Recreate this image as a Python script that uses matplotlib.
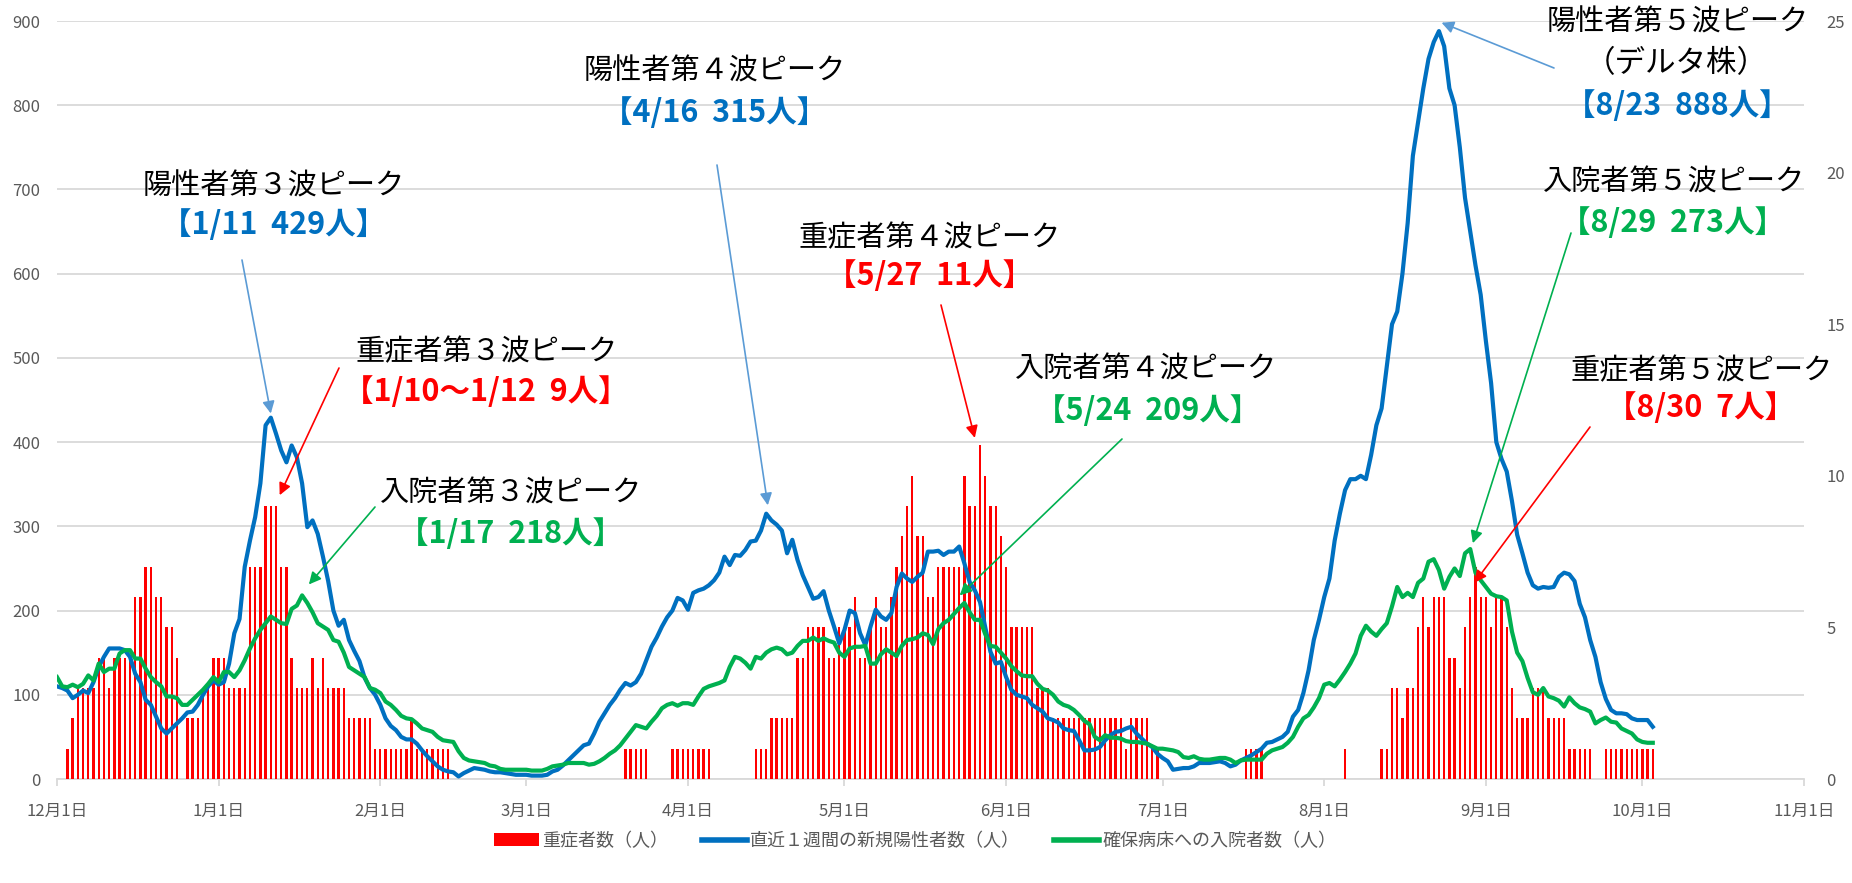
import pandas as pd
import matplotlib
matplotlib.use('Agg')
import matplotlib.pyplot as plt
import matplotlib.dates as mdates
from matplotlib.patches import Patch
from matplotlib.lines import Line2D
from matplotlib.ticker import FuncFormatter

plt.rcParams['font.family'] = ['Noto Sans CJK JP', 'DejaVu Sans']

start = '2020-12-01'

# 重症者数（人） 右軸
severe = [
    0, 0, 1, 2, 3, 3, 3, 3, 4, 4, 3, 4, 4, 4, 4, 6, 6, 7, 7, 6, 6, 5, 5, 4, 0, 2, 2, 2, 3, 3, 4,  # 12月
    4, 4, 3, 3, 3, 3, 7, 7, 7, 9, 9, 9, 7, 7, 4, 3, 3, 3, 4, 3, 4, 3, 3, 3, 3, 2, 2, 2, 2, 2, 1,  # 1月
    1, 1, 1, 1, 1, 1, 2, 1, 1, 1, 1, 1, 1, 1, 0, 0, 0, 0, 0, 0, 0, 0, 0, 0, 0, 0, 0, 0,  # 2月
    0, 0, 0, 0, 0, 0, 0, 0, 0, 0, 0, 0, 0, 0, 0, 0, 0, 0, 0, 1, 1, 1, 1, 1, 0, 0, 0, 0, 1, 1, 1,  # 3月
    1, 1, 1, 1, 1, 0, 0, 0, 0, 0, 0, 0, 0, 1, 1, 1, 2, 2, 2, 2, 2, 4, 4, 5, 5, 5, 5, 4, 4, 5,  # 4月
    5, 5, 6, 4, 4, 5, 6, 5, 5, 6, 7, 8, 9, 10, 8, 8, 6, 6, 7, 7, 7, 7, 7, 10, 9, 9, 11, 10, 9, 9, 8,  # 5月
    7, 5, 5, 5, 5, 5, 3, 3, 3, 2, 2, 2, 2, 2, 2, 2, 2, 2, 2, 2, 2, 2, 2, 1, 2, 2, 2, 2, 1, 1,  # 6月
    0, 0, 0, 0, 0, 0, 0, 0, 0, 0, 0, 0, 0, 0, 0, 0, 1, 1, 1, 1, 0, 0, 0, 0, 0, 0, 0, 0, 0, 0, 0,  # 7月
    0, 0, 0, 0, 1, 0, 0, 0, 0, 0, 0, 1, 1, 3, 3, 2, 3, 3, 5, 6, 5, 6, 6, 6, 4, 4, 3, 5, 6, 7, 6,  # 8月
    6, 5, 6, 6, 5, 3, 2, 2, 2, 3, 3, 3, 2, 2, 2, 2, 1, 1, 1, 1, 1, 0, 0, 1, 1, 1, 1, 1, 1, 1,  # 9月
    1, 1, 1,  # 10月
]

# 直近１週間の新規陽性者数（人） 左軸
positives = [
    110, 108, 105, 96, 100, 105, 102, 115, 133, 145, 155, 155, 155, 153, 145, 125, 115, 94, 88, 74,
    60, 54, 60, 66, 72, 79, 80, 88, 100, 110, 117,  # 12月
    112, 115, 137, 173, 190, 252, 283, 311, 351, 420, 429, 410, 390, 376, 396, 382, 351, 299, 307, 291,
    264, 235, 200, 182, 189, 165, 152, 140, 120, 108, 100,  # 1月
    88, 72, 63, 58, 50, 47, 47, 42, 34, 27, 21, 15, 11, 9, 8, 3, 7, 10, 13, 12,
    11, 9, 8, 8, 7, 6, 5, 5,  # 2月
    5, 4, 4, 4, 5, 9, 11, 16, 22, 28, 34, 40, 42, 54, 68, 78, 88, 96, 106, 114,
    111, 115, 125, 141, 157, 168, 181, 192, 200, 215, 212,  # 3月
    201, 221, 224, 226, 230, 236, 245, 264, 254, 266, 265, 272, 282, 283, 295, 315, 307, 302, 295, 268,
    284, 260, 242, 228, 214, 216, 223, 200, 181, 161,  # 4月
    177, 200, 197, 173, 159, 181, 201, 193, 189, 197, 228, 244, 238, 234, 240, 245, 270, 270, 271, 266,
    270, 270, 276, 256, 234, 224, 210, 180, 151, 137, 139,  # 5月
    121, 106, 100, 98, 96, 88, 84, 80, 72, 70, 67, 60, 58, 57, 46, 34, 34, 35, 38, 46,
    52, 56, 57, 60, 62, 54, 48, 42, 38, 30,  # 6月
    25, 21, 11, 12, 13, 13, 15, 19, 19, 19, 20, 21, 19, 15, 17, 22, 25, 28, 32, 36,
    43, 44, 47, 50, 56, 74, 82, 102, 129, 165, 189,  # 7月
    216, 238, 283, 315, 343, 356, 356, 360, 356, 385, 420, 440, 490, 540, 555, 600, 660, 740, 780, 820,
    855, 875, 888, 870, 820, 800, 750, 690, 650, 610, 575,  # 8月
    520, 470, 400, 380, 365, 330, 290, 268, 245, 230, 226, 228, 227, 228, 240, 245, 243, 235, 208, 192,
    165, 145, 115, 95, 82, 78, 78, 77, 72, 70,  # 9月
    70, 70, 62,  # 10月
]

# 確保病床への入院者数（人） 左軸
hospital = [
    121, 110, 109, 112, 109, 113, 123, 117, 137, 127, 131, 131, 149, 153, 153, 143, 143, 131, 121, 115,
    110, 98, 98, 96, 88, 88, 94, 100, 106, 113, 121,  # 12月
    115, 127, 127, 121, 129, 141, 155, 167, 177, 185, 193, 189, 185, 184, 202, 206, 218, 209, 198, 185,
    181, 177, 165, 163, 150, 133, 129, 125, 121, 108, 106,  # 1月
    102, 92, 88, 82, 75, 72, 71, 66, 60, 58, 56, 50, 46, 45, 44, 33, 25, 22, 21, 20,
    19, 16, 15, 12, 11, 11, 11, 11,  # 2月
    11, 10, 10, 10, 12, 15, 16, 17, 19, 19, 19, 19, 17, 18, 21, 25, 30, 34, 40, 48,
    56, 64, 62, 60, 68, 75, 84, 88, 90, 87, 90,  # 3月
    90, 88, 98, 107, 110, 112, 114, 117, 133, 145, 143, 138, 131, 145, 143, 150, 154, 156, 154, 148,
    150, 158, 164, 164, 168, 164, 167, 164, 162, 150,  # 4月
    145, 155, 157, 157, 158, 137, 137, 148, 154, 150, 146, 158, 165, 166, 168, 173, 171, 160, 178, 185,
    189, 196, 203, 209, 198, 189, 189, 172, 158, 157, 150,  # 5月
    143, 134, 128, 123, 122, 122, 113, 107, 105, 100, 92, 88, 86, 82, 76, 69, 65, 50, 46, 52,
    49, 49, 48, 45, 44, 44, 43, 42, 39, 36,  # 6月
    36, 35, 34, 32, 26, 25, 27, 24, 23, 23, 24, 25, 25, 23, 19, 22, 23, 23, 23, 23,
    30, 34, 36, 38, 43, 50, 62, 72, 76, 85, 96,  # 7月
    112, 114, 110, 118, 127, 137, 149, 170, 182, 175, 170, 178, 185, 205, 228, 216, 221, 216, 233, 238,
    258, 261, 248, 226, 240, 250, 241, 268, 273, 245, 236,  # 8月
    228, 220, 217, 216, 212, 175, 150, 140, 120, 103, 100, 108, 98, 96, 93, 86, 97, 90, 85, 83,
    80, 66, 70, 73, 68, 67, 60, 57, 54, 47,  # 9月
    44, 43, 43,  # 10月
]

dates = pd.date_range(start, periods=len(positives), freq='D')

W, H = 1852, 883
fig = plt.figure(figsize=(W / 100, H / 100), dpi=100)
ax = fig.add_axes([57 / W, 1 - 779 / H, (1804 - 57) / W, (779 - 21) / H])

gray = '#595959'
grid = '#D9D9D9'

# 左軸・グリッド
ax.set_ylim(0, 900)
ax.set_yticks(range(0, 901, 100))
ax.set_xlim(pd.Timestamp('2020-12-01'), pd.Timestamp('2021-11-01'))
ax.xaxis.set_major_locator(mdates.MonthLocator())
ax.xaxis.set_major_formatter(FuncFormatter(
    lambda v, p: f"{mdates.num2date(v).month}月{mdates.num2date(v).day}日"))
ax.yaxis.grid(True, color=grid, lw=1.3)
ax.set_axisbelow(True)
for s in ['left', 'right', 'top']:
    ax.spines[s].set_visible(False)
ax.spines['bottom'].set_color(grid)
ax.spines['bottom'].set_linewidth(1.3)
ax.tick_params(axis='y', length=0, pad=12, labelsize=12, labelcolor=gray)
ax.tick_params(axis='x', length=5, width=1.3, color=grid, pad=12, labelsize=12, labelcolor=gray)

# 右軸：重症者数
ax2 = ax.twinx()
ax2.bar(dates, severe, width=0.45, color='#FF0000')
ax2.set_ylim(0, 25)
ax2.set_yticks(range(0, 26, 5))
ax2.tick_params(axis='y', length=0, pad=16, labelsize=12, labelcolor=gray)
for s in ax2.spines.values():
    s.set_visible(False)

# 折れ線
ax3 = ax.twinx()
ax3.plot(dates, positives, color='#0070C0', lw=3)
ax3.plot(dates, hospital, color='#00B050', lw=3)
ax3.set_ylim(0, 900)
ax3.yaxis.set_visible(False)
for s in ax3.spines.values():
    s.set_visible(False)

base = mdates.date2num(dates[0])


def label(x, y, s, **kw):
    fig.text(x / W, 1 - y / H, s, ha='center', va='center', **kw)


def arrow(day, val, x, y, color):
    ax3.annotate('', xy=(base + day, val), xycoords='data',
                 xytext=(x / W, 1 - y / H), textcoords='figure fraction',
                 arrowprops=dict(arrowstyle='-|>', color=color, lw=1.2,
                                 shrinkA=0, shrinkB=0, mutation_scale=18))


blue, red, green, lblue = '#0070C0', '#FF0000', '#00B050', '#5B9BD5'
hs, bs = 21, 22

label(274, 187, '陽性者第３波ピーク', fontsize=hs)
label(274, 225, '【1/11  429人】', fontsize=bs, color=blue, weight='bold')
arrow(41.0, 434, 242, 260, lblue)

label(487, 352, '重症者第３波ピーク', fontsize=hs)
label(486, 392, '【1/10～1/12  9人】', fontsize=bs, color=red, weight='bold')
arrow(42.7, 337, 339, 368, red)

label(511, 494, '入院者第３波ピーク', fontsize=hs)
label(511, 534, '【1/17  218人】', fontsize=bs, color=green, weight='bold')
arrow(48.3, 231, 375, 507, green)

label(715, 72, '陽性者第４波ピーク', fontsize=hs)
label(715, 113, '【4/16  315人】', fontsize=bs, color=blue, weight='bold')
arrow(136.3, 325, 717, 165, lblue)

label(930, 238, '重症者第４波ピーク', fontsize=hs)
label(930, 276, '【5/27  11人】', fontsize=bs, color=red, weight='bold')
arrow(176.0, 405, 941, 305, red)

label(1146, 370, '入院者第４波ピーク', fontsize=hs)
label(1148, 411, '【5/24  209人】', fontsize=bs, color=green, weight='bold')
arrow(173.1, 218, 1122, 439, green)

label(1678, 23, '陽性者第５波ピーク', fontsize=hs)
label(1676, 64, '（デルタ株）', fontsize=22)
label(1677, 106, '【8/23  888人】', fontsize=bs, color=blue, weight='bold')
arrow(265.5, 898, 1554, 68, lblue)

label(1674, 183, '入院者第５波ピーク', fontsize=hs)
label(1673, 223, '【8/29  273人】', fontsize=bs, color=green, weight='bold')
arrow(271.5, 280, 1571, 233, green)

label(1702, 371, '重症者第５波ピーク', fontsize=hs)
label(1701, 408, '【8/30  7人】', fontsize=bs, color=red, weight='bold')
arrow(271.8, 233, 1590, 427, red)

# 凡例
handles = [
    Patch(facecolor='#FF0000'),
    Line2D([0], [0], color='#0070C0', lw=4),
    Line2D([0], [0], color='#00B050', lw=4),
]
labels = ['重症者数（人）', '直近１週間の新規陽性者数（人）', '確保病床への入院者数（人）']
fig.legend(handles, labels, loc='center', bbox_to_anchor=(915 / W, 1 - 841 / H), ncol=3,
           frameon=False, fontsize=13, labelcolor=gray, handlelength=2.5,
           handletextpad=0.15, columnspacing=1.9)

fig.savefig('out.png', dpi=100)
